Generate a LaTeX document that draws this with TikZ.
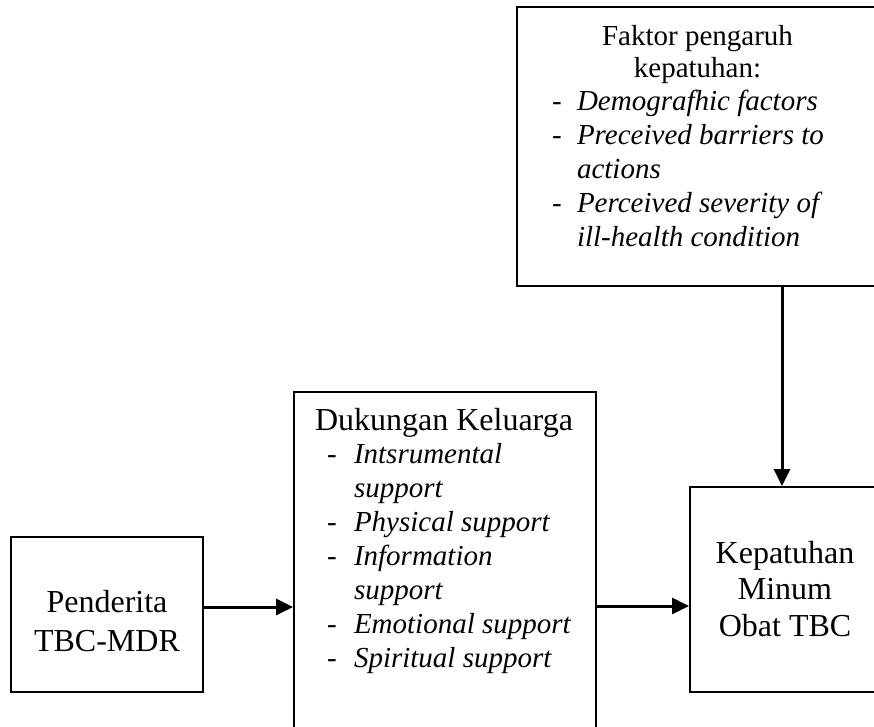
\documentclass[tikz,border=0pt]{standalone}
\usepackage{fontspec}
\setmainfont{Liberation Serif}
\usetikzlibrary{arrows.meta}
\newcommand{\fsz}[2]{\fontsize{#1}{#2}\selectfont}
\begin{document}
\begin{tikzpicture}[x=1pt,y=-1pt,
  box/.style={draw,line width=2pt,rectangle,inner sep=0pt},
  txt/.style={inner sep=0pt,outer sep=0pt},
  arr/.style={line width=3pt,-{Triangle[length=17pt,width=16pt]}}]
\useasboundingbox (0,0) rectangle (874,726);
% boxes
\node[box,minimum width=361pt,minimum height=279pt] (topbox) at (697.5,146.5) {};
\node[box,minimum width=302pt,minimum height=348pt] (midbox) at (445,566) {};
\node[box,minimum width=192pt,minimum height=155pt] (leftbox) at (107,614.5) {};
\node[box,minimum width=188pt,minimum height=205pt] (rightbox) at (784,589.5) {};
% texts
\node[txt,anchor=base] (toptitle) at (697.5,45) {\fsz{29}{32.5}\begin{tabular}[t]{@{}c@{}}Faktor pengaruh\\kepatuhan:\end{tabular}};
\node[txt,anchor=base west] (toplist) at (552,110) {\fsz{29}{34}\begin{tabular}[t]{@{}p{25pt}@{}l@{}}-&\textit{Demografhic factors}\\-&\textit{Preceived barriers to}\\&\textit{actions}\\-&\textit{Perceived severity of}\\&\textit{ill-health condition}\end{tabular}};
\node[txt,anchor=base] (midtitle) at (444,430) {\fsz{32}{34}Dukungan Keluarga};
\node[txt,anchor=base west] (midlist) at (327,463) {\fsz{29}{34}\begin{tabular}[t]{@{}p{27pt}@{}l@{}}-&\textit{Intsrumental}\\&\textit{support}\\-&\textit{Physical support}\\-&\textit{Information}\\&\textit{support}\\-&\textit{Emotional support}\\-&\textit{Spiritual support}\end{tabular}};
\node[txt,anchor=base] (lefttext) at (107,612) {\fsz{32}{39}\begin{tabular}[t]{@{}c@{}}Penderita\\TBC-MDR\end{tabular}};
\node[txt,anchor=base] (righttext) at (785,563) {\fsz{32}{36.7}\begin{tabular}[t]{@{}c@{}}Kepatuhan\\Minum\\Obat TBC\end{tabular}};
% connectors
\coordinate (ya) at (0,607);
\coordinate (yb) at (0,606);
\coordinate (vx) at (782,0);
\draw[arr] (leftbox.east |- ya) -- (midbox.west |- ya);
\draw[arr] (midbox.east |- yb) -- (rightbox.west |- yb);
\draw[arr] (topbox.south -| vx) -- (rightbox.north -| vx);
\end{tikzpicture}
\end{document}
